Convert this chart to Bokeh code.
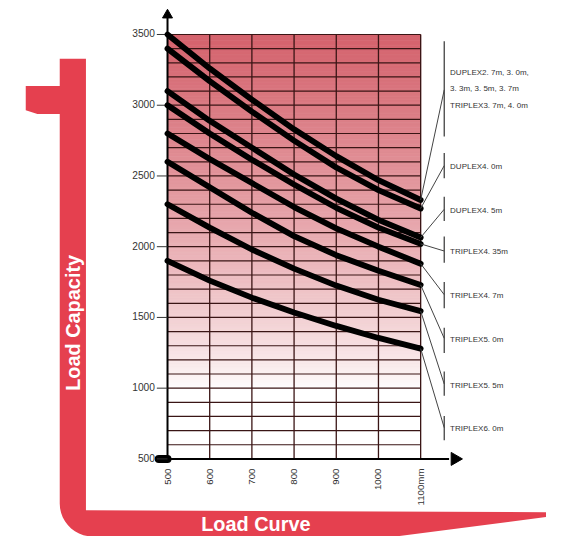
import numpy as np
from bokeh.plotting import figure
from bokeh.models import Range1d
from bokeh.core.properties import value
from bokeh.embed import file_html
from bokeh.resources import INLINE

# ---------------- data ----------------
load_centers = [500, 600, 700, 800, 900, 1000, 1100]
x_tick_labels = ["500", "600", "700", "800", "900", "1000", "1100mm"]
y_ticks = [500, 1000, 1500, 2000, 2500, 3000, 3500]
y_tick_labels = ["500", "1000", "1500", "2000", "2500", "3000", "3500"]

cap_duplex_27 = [3500, 3260, 3040, 2830, 2640, 2470, 2330]
cap_duplex_40 = [3400, 3170, 2955, 2750, 2560, 2400, 2270]
cap_duplex_45 = [3100, 2890, 2700, 2510, 2340, 2190, 2065]
cap_triplex_435 = [3000, 2800, 2615, 2440, 2275, 2135, 2020]
cap_triplex_47 = [2800, 2620, 2450, 2280, 2130, 2000, 1880]
cap_triplex_50 = [2600, 2420, 2240, 2075, 1940, 1830, 1730]
cap_triplex_55 = [2300, 2135, 1980, 1845, 1725, 1625, 1545]
cap_triplex_60 = [1900, 1760, 1640, 1535, 1440, 1355, 1280]

series = [cap_duplex_27, cap_duplex_40, cap_duplex_45, cap_triplex_435,
          cap_triplex_47, cap_triplex_50, cap_triplex_55, cap_triplex_60]

mast_labels = [
    ["DUPLEX2. 7m, 3. 0m,", "3. 3m, 3. 5m, 3. 7m", "TRIPLEX3. 7m, 4. 0m"],
    ["DUPLEX4. 0m"], ["DUPLEX4. 5m"], ["TRIPLEX4. 35m"], ["TRIPLEX4. 7m"],
    ["TRIPLEX5. 0m"], ["TRIPLEX5. 5m"], ["TRIPLEX6. 0m"],
]

# ---------------- layout helpers (reference pixel -> data) ----------------
KX = 0.4345   # px per mm (reference scale)
KY = 0.1457   # px per kg (reference scale)
S = 0.971     # overall scale so the whole composition fits


def X(ix):
    return 500 + (ix - 172) / KX


def Y(iy):
    return 3500 - (iy - 35) / KY


def fs(px):
    return "%.1fpx" % (px * S)


W, H = 546, 536
p = figure(width=W, height=H, output_backend="svg", toolbar_location=None,
           x_range=Range1d(X(0), X(W / S)), y_range=Range1d(Y(H / S), Y(0)),
           x_axis_type=None, y_axis_type=None, min_border=0)
p.grid.visible = False
p.outline_line_color = None
p.background_fill_color = "white"
p.border_fill_color = "white"

RED = "#e5404f"
SANS = value("Liberation Sans")

# ---------------- decorative red frame ----------------
pts = [(61, 60), (88, 60), (88, 525), (562, 527), (562, 532), (407, 552), (95, 552)]
r = 34
cx, cy = 95, 518
for a in np.linspace(np.pi / 2, np.pi, 12):
    pts.append((cx + r * np.cos(a), cy + r * np.sin(a)))
pts += [(61, 117), (38, 117), (26, 113), (26, 88), (61, 88)]
p.patch([X(a) for a, b in pts], [Y(b) for a, b in pts], color=RED, line_color=None)

p.text(x=[X(75)], y=[Y(332)], text=["Load Capacity"], angle=np.pi / 2,
       text_align="center", text_baseline="middle", text_color="white",
       text_font=SANS, text_font_style="bold", text_font_size=fs(20.5))
p.text(x=[X(263)], y=[Y(539)], text=["Load Curve"],
       text_align="center", text_baseline="middle", text_color="white",
       text_font=SANS, text_font_style="bold", text_font_size=fs(20.5))

# ---------------- gradient background ----------------
top_rgb = np.array([212, 98, 108])
step = 20
bands = np.arange(500, 3500, step)
cols = []
for b in bands:
    t = np.clip((b + step / 2 - 1000) / 2500, 0, 1) ** 0.75
    c = (1 - t) * np.array([255, 255, 255]) + t * top_rgb
    cols.append("#%02x%02x%02x" % tuple(int(round(v)) for v in c))
p.quad(left=500, right=1100, bottom=bands, top=bands + step,
       fill_color=cols, line_color=cols, line_width=0.8)

# ---------------- grid ----------------
hy = list(range(600, 3600, 100))
p.segment(x0=[500] * len(hy), x1=[1100] * len(hy), y0=hy, y1=hy,
          line_color="#3a1515", line_width=1.2)
vx = load_centers[1:]
p.segment(x0=vx, x1=vx, y0=[500] * len(vx), y1=[3500] * len(vx),
          line_color="#3a1515", line_width=1.3)

# ---------------- axes ----------------
p.segment(x0=[500], y0=[500], x1=[500], y1=[Y(17)], line_color="black", line_width=2)
p.scatter(x=[500], y=[Y(15)], marker="triangle", size=10, color="black")
p.segment(x0=[500], y0=[500], x1=[X(462)], y1=[500], line_color="black", line_width=2)
p.scatter(x=[X(468)], y=[500], marker="triangle", angle=-np.pi / 2, size=13, color="black")
p.segment(x0=[X(163)], y0=[500], x1=[500], y1=[500], line_color="black",
          line_width=8, line_cap="round")

# y ticks and labels
p.segment(x0=[X(161)] * len(y_ticks), x1=[500] * len(y_ticks), y0=y_ticks, y1=y_ticks,
          line_color="#333333", line_width=1)
p.text(x=[X(159)] * len(y_ticks), y=y_ticks, text=y_tick_labels,
       text_align="right", text_baseline="bottom", text_color="#333333",
       text_font=SANS, text_font_size=fs(10.5), y_offset=[3] * len(y_ticks))

# x labels (rotated)
p.text(x=load_centers, y=[Y(482)] * len(load_centers), text=x_tick_labels, angle=np.pi / 2,
       text_align="right", text_baseline="middle", text_color="#333333",
       text_font=SANS, text_font_size=fs(10))

# ---------------- curves ----------------
for s in series:
    p.line(load_centers, s, line_color="black", line_width=6 * S,
           line_cap="round", line_join="round")

# ---------------- right-hand labels ----------------
bracket_mid = [92, 170, 215, 258, 303, 348, 395, 440]
bracket_span = [(42, 140), (157, 183), (202, 227), (243, 270), (290, 317),
                (337, 363), (382, 407), (428, 453)]
BX = X(457)
for s, mid, (t0, t1), lab in zip(series, bracket_mid, bracket_span, mast_labels):
    p.segment(x0=[BX], x1=[BX], y0=[Y(t0)], y1=[Y(t1)], line_color="#444444", line_width=1.3)
    p.segment(x0=[load_centers[-1]], y0=[s[-1]], x1=[BX], y1=[Y(mid)],
              line_color="#444444", line_width=1)
    if len(lab) == 1:
        ys = [Y(mid + 1)]
    else:
        ys = [Y(74), Y(91), Y(108)]
    p.text(x=[X(463)] * len(lab), y=ys, text=lab, text_align="left",
           text_baseline="middle", text_color="#333333",
           text_font=SANS, text_font_size=fs(8.2))

open("out.html", "w").write(file_html(p, INLINE))
